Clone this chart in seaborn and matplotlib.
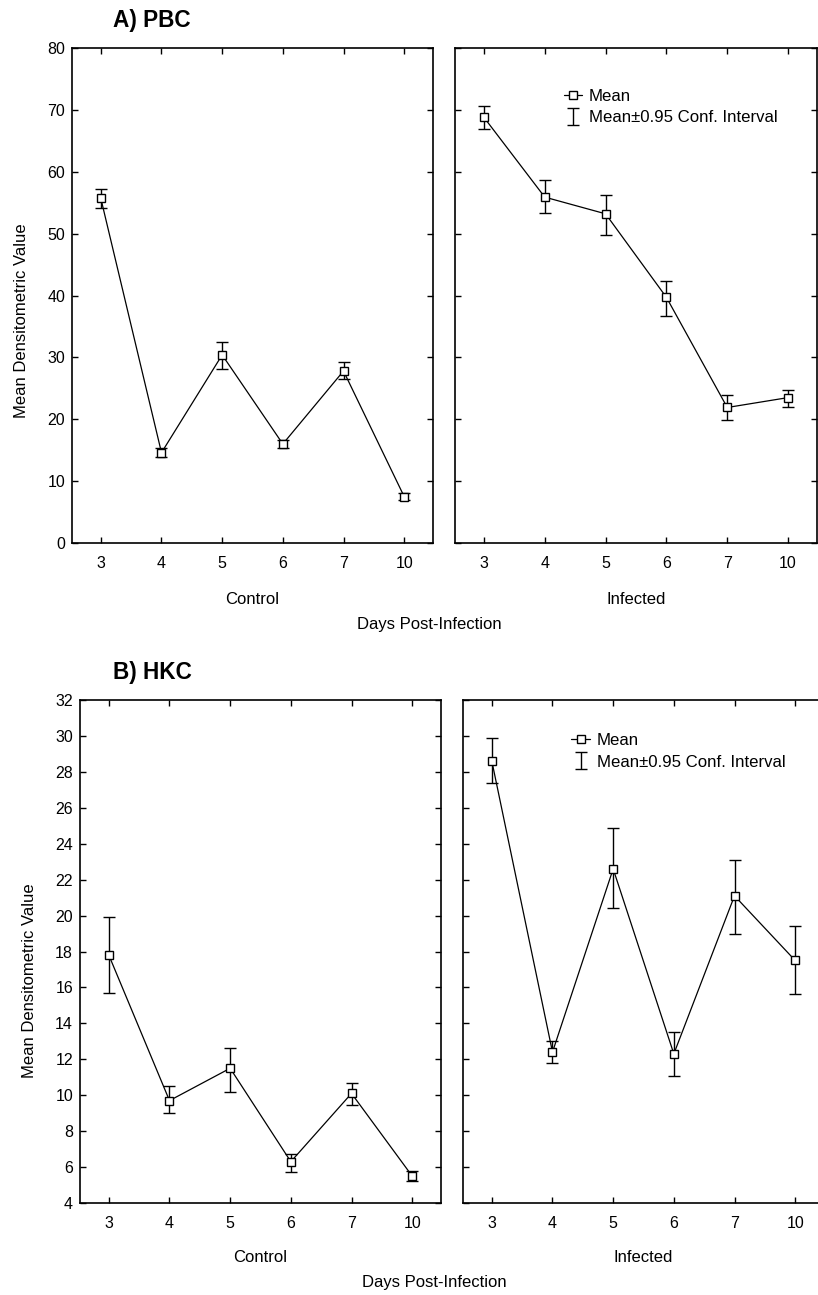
import numpy as np
import pandas as pd
import matplotlib
matplotlib.use("Agg")
import matplotlib.pyplot as plt
from matplotlib.lines import Line2D
import seaborn as sns

days = ["3", "4", "5", "6", "7", "10"]

# Panel A) PBC
pbc_control_mean = [55.7, 14.6, 30.4, 16.0, 27.8, 7.5]
pbc_control_lo = [54.1, 13.9, 28.2, 15.3, 26.5, 6.9]
pbc_control_hi = [57.2, 15.3, 32.5, 16.6, 29.3, 8.1]
pbc_infected_mean = [68.8, 55.9, 53.2, 39.7, 21.9, 23.5]
pbc_infected_lo = [66.9, 53.3, 49.8, 36.7, 19.8, 21.9]
pbc_infected_hi = [70.7, 58.6, 56.3, 42.4, 24.0, 24.7]

# Panel B) HKC
hkc_control_mean = [17.8, 9.7, 11.5, 6.3, 10.1, 5.5]
hkc_control_lo = [15.7, 9.0, 10.2, 5.7, 9.45, 5.2]
hkc_control_hi = [19.9, 10.5, 12.65, 6.7, 10.7, 5.8]
hkc_infected_mean = [28.6, 12.4, 22.6, 12.3, 21.1, 17.5]
hkc_infected_lo = [27.4, 11.8, 20.4, 11.05, 19.0, 15.65]
hkc_infected_hi = [29.9, 13.0, 24.9, 13.5, 23.1, 19.4]

groups = ["Control", "Infected"]
panel_titles = ["A) PBC", "B) HKC"]
y_label = "Mean Densitometric Value"
x_label = "Days Post-Infection"
legend_labels = ["Mean", "Mean\u00b10.95 Conf. Interval"]

sns.set_theme(style="ticks")
plt.rcParams["font.family"] = ["Liberation Sans", "DejaVu Sans"]
plt.rcParams["text.color"] = "black"

W, H = 818, 1295
fig = plt.figure(figsize=(W / 100, H / 100), dpi=100)


def px_axes(x0, y0, x1, y1):
    return fig.add_axes([x0 / W, 1 - y1 / H, (x1 - x0) / W, (y1 - y0) / H])


def draw(ax, mean, lo, hi, ylim, yticks, show_ylabels):
    df = pd.DataFrame({"day": days, "mean": mean})
    sns.pointplot(data=df, x="day", y="mean", order=days, ax=ax, color="black",
                  markers="s", linestyles="-", errorbar=None,
                  markersize=6, markerfacecolor="white", markeredgecolor="black",
                  markeredgewidth=1.0, linewidth=0.9, zorder=3)
    m = np.array(mean)
    yerr = np.vstack([m - np.array(lo), np.array(hi) - m])
    ax.errorbar(np.arange(len(days)), m, yerr=yerr, fmt="none", ecolor="black",
                elinewidth=1.0, capsize=4.5, capthick=1.0, zorder=2)
    ax.set_xlim(-0.475, len(days) - 1 + 0.475)
    ax.set_ylim(*ylim)
    ax.set_yticks(yticks)
    ax.tick_params(direction="in", length=4, width=1, top=True, right=True,
                   labelsize=11.5, colors="black")
    ax.tick_params(axis="x", pad=9)
    ax.tick_params(axis="y", pad=5)
    if not show_ylabels:
        ax.tick_params(axis="y", labelleft=False)
    for s in ax.spines.values():
        s.set_visible(True)
        s.set_linewidth(1.2)
        s.set_color("black")
    ax.set_ylabel("")
    ax.set_xlabel("")


def add_legend(ax, anchor):
    h_mean = Line2D([], [], marker="s", markersize=6, markerfacecolor="white",
                    markeredgecolor="black", color="black", linewidth=0.9)
    eb = ax.errorbar([np.nan], [np.nan], yerr=[[1], [1]], fmt="none", ecolor="black",
                     elinewidth=1.0, capsize=4.5, capthick=1.0)
    leg = ax.legend([h_mean, eb], legend_labels, loc="upper left", bbox_to_anchor=anchor,
                    frameon=False, handlelength=1.1, handletextpad=0.4, borderpad=0,
                    borderaxespad=0, labelspacing=0.38, fontsize=12.1)
    for t in leg.get_texts():
        t.set_color("black")


panels = [
    dict(title=panel_titles[0], rows=[(pbc_control_mean, pbc_control_lo, pbc_control_hi),
                                      (pbc_infected_mean, pbc_infected_lo, pbc_infected_hi)],
         boxes=[(72, 48, 433, 543), (455, 48, 817, 543)],
         ylim=(0, 80), yticks=np.arange(0, 81, 10), title_y=20,
         ylab=(-0.141, 0.45), xlab_y=599, days_xy=(429, 624), leg=(0.30, 0.917)),
    dict(title=panel_titles[1], rows=[(hkc_control_mean, hkc_control_lo, hkc_control_hi),
                                      (hkc_infected_mean, hkc_infected_lo, hkc_infected_hi)],
         boxes=[(80, 700, 441, 1203), (463, 700, 824, 1203)],
         ylim=(4, 32), yticks=np.arange(4, 33, 2), title_y=673,
         ylab=(-0.141, 0.441), xlab_y=1258, days_xy=(434, 1283), leg=(0.30, 0.934)),
]

for p in panels:
    axes = []
    for i, ((mean, lo, hi), box) in enumerate(zip(p["rows"], p["boxes"])):
        ax = px_axes(*box)
        draw(ax, mean, lo, hi, p["ylim"], p["yticks"], show_ylabels=(i == 0))
        ax.set_xlabel(groups[i], fontsize=12, color="black")
        ax.xaxis.label.set_va("center")
        ax.xaxis.set_label_coords(0.5, (box[3] - p["xlab_y"]) / (box[3] - box[1]))
        axes.append(ax)
    axes[0].set_ylabel(y_label, fontsize=12, color="black")
    axes[0].yaxis.label.set_va("center")
    axes[0].yaxis.set_label_coords(*p["ylab"])
    add_legend(axes[1], p["leg"])
    fig.text(113 / W, 1 - p["title_y"] / H, p["title"], fontsize=16.3, fontweight="bold",
             ha="left", va="center", color="black")
    fig.text(p["days_xy"][0] / W, 1 - p["days_xy"][1] / H, x_label, fontsize=12,
             ha="center", va="center", color="black")

fig.savefig("out.png", dpi=100, facecolor="white")
